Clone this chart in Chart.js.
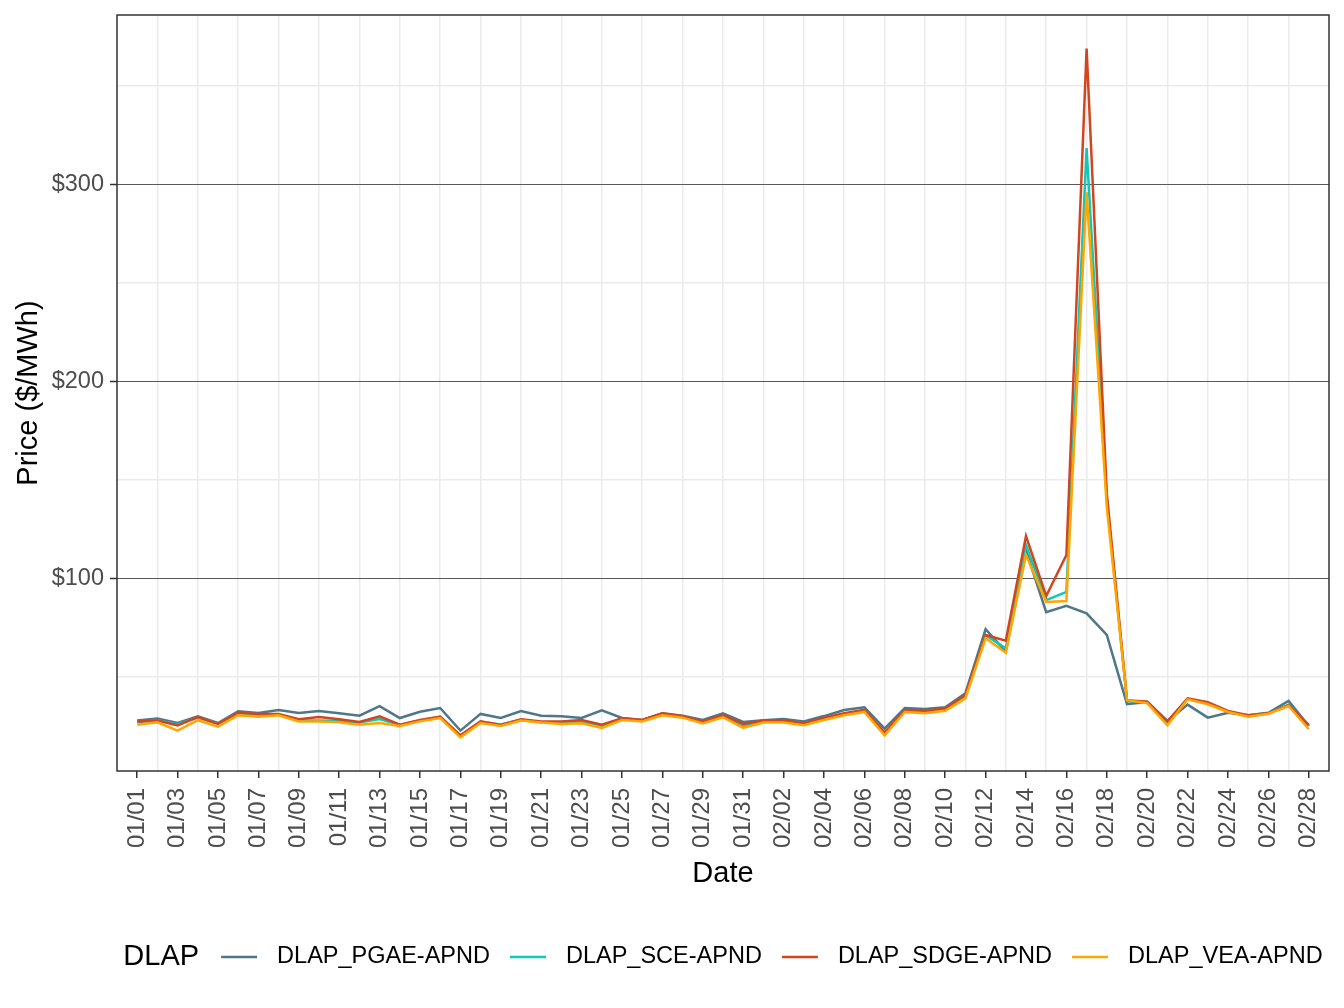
<!DOCTYPE html>
<html>
<head>
<meta charset="utf-8">
<script src="https://cdn.jsdelivr.net/npm/chart.js@4.4.1/dist/chart.umd.min.js"></script>
<style>
  html, body { margin: 0; padding: 0; background: #fff; }
  #wrap { width: 1344px; height: 1008px; }
</style>
</head>
<body>
<div id="wrap"><canvas id="chart"></canvas></div>
<script>
const FONT = '"Liberation Sans", Arial, sans-serif';

const dates = [
    '01/01', '01/02', '01/03', '01/04', '01/05', '01/06', '01/07', '01/08', '01/09', '01/10',
    '01/11', '01/12', '01/13', '01/14', '01/15', '01/16', '01/17', '01/18', '01/19', '01/20',
    '01/21', '01/22', '01/23', '01/24', '01/25', '01/26', '01/27', '01/28', '01/29', '01/30',
    '01/31', '02/01', '02/02', '02/03', '02/04', '02/05', '02/06', '02/07', '02/08', '02/09',
    '02/10', '02/11', '02/12', '02/13', '02/14', '02/15', '02/16', '02/17', '02/18', '02/19',
    '02/20', '02/21', '02/22', '02/23', '02/24', '02/25', '02/26', '02/27', '02/28'
];

const pgae = [
    27.6, 28.6, 26.4, 29.8, 26.4, 32.3, 31.5, 33.0, 31.5, 32.5,
    31.3, 30.1, 34.9, 28.9, 32.1, 34.0, 22.5, 31.0, 28.9, 32.4,
    30.1, 29.8, 28.9, 32.8, 28.9, 27.9, 31.3, 30.1, 27.9, 31.3,
    26.9, 27.8, 28.4, 27.2, 29.9, 33.0, 34.4, 23.5, 34.0, 33.5,
    34.4, 41.5, 74.0, 62.6, 114.0, 82.7, 85.9, 82.1, 71.1, 36.0,
    37.1, 27.4, 35.7, 29.1, 31.6, 30.3, 31.6, 37.6, 24.9
];

const sce = [
    26.8, 27.8, 25.8, 29.2, 26.0, 31.4, 30.6, 30.8, 27.6, 27.6,
    27.4, 26.6, 28.4, 25.4, 27.6, 29.4, 20.0, 27.0, 25.6, 28.0,
    26.8, 26.8, 27.2, 25.0, 28.4, 27.6, 30.8, 29.6, 26.8, 29.8,
    24.8, 27.2, 27.2, 26.0, 28.6, 31.0, 32.8, 21.0, 32.8, 32.2,
    33.4, 40.2, 71.0, 64.3, 116.8, 88.8, 93.0, 318.4, 140.0, 37.5,
    37.0, 26.8, 38.6, 36.4, 32.2, 30.0, 31.2, 35.6, 25.0
];

const sdge = [
    27.1, 27.6, 25.2, 29.4, 25.9, 31.6, 31.0, 31.0, 28.3, 29.4,
    28.3, 26.9, 29.8, 25.5, 27.9, 29.6, 20.1, 27.2, 25.4, 28.3,
    27.2, 27.2, 27.9, 25.5, 28.8, 27.9, 31.3, 29.8, 27.2, 30.3,
    25.9, 27.6, 27.6, 26.2, 28.9, 31.3, 33.0, 21.5, 33.0, 32.6,
    33.7, 40.6, 71.1, 68.2, 121.3, 90.9, 111.7, 368.9, 143.0, 38.0,
    37.2, 27.2, 38.9, 36.9, 32.5, 30.3, 31.3, 35.4, 25.4
];

const vea = [
    25.5, 26.7, 22.5, 27.8, 24.5, 30.3, 29.6, 30.3, 27.2, 27.2,
    26.7, 25.5, 26.4, 24.9, 27.2, 28.9, 19.1, 26.4, 24.9, 27.6,
    26.6, 25.9, 26.2, 23.9, 27.9, 27.2, 30.3, 29.1, 26.2, 29.3,
    23.9, 26.6, 26.6, 25.2, 27.9, 30.3, 32.0, 20.1, 32.0, 31.3,
    32.6, 38.9, 69.4, 62.1, 111.7, 87.8, 88.3, 296.0, 136.0, 38.0,
    36.4, 25.2, 38.4, 35.9, 32.0, 29.6, 31.1, 35.0, 23.2
];

const seriesNames = ['DLAP_PGAE-APND', 'DLAP_SCE-APND', 'DLAP_SDGE-APND', 'DLAP_VEA-APND'];
const seriesColors = ['#4f7689', '#14c6b6', '#d2461f', '#ffa600'];
const seriesValues = [pgae, sce, sdge, vea];

const yTickValues = [50, 100, 150, 200, 250, 300, 350];

function toPoints(values) {
    return values.map((v, i) => ({x: i, y: v}));
}

// legend drawn like ggplot: title on the left, keys in one row
const dlapLegend = {
    id: 'dlapLegend',
    afterDraw(chart) {
        const ctx = chart.ctx;
        const y = 957;
        ctx.save();
        ctx.textBaseline = 'middle';
        ctx.fillStyle = '#000';
        ctx.font = '29px ' + FONT;
        const titleW = ctx.measureText('DLAP').width;
        ctx.font = '23.5px ' + FONT;
        let total = titleW + 22;
        chart.data.datasets.forEach(ds => {
            total += 56 + ctx.measureText(ds.label).width + 20;
        });
        total -= 20;
        let x = (chart.chartArea.left + chart.chartArea.right) / 2 - total / 2;
        ctx.font = '29px ' + FONT;
        ctx.fillText('DLAP', x, y);
        x += titleW + 22;
        ctx.font = '23.5px ' + FONT;
        chart.data.datasets.forEach(ds => {
            ctx.strokeStyle = ds.borderColor;
            ctx.lineWidth = 2.5;
            ctx.beginPath();
            ctx.moveTo(x, y);
            ctx.lineTo(x + 36, y);
            ctx.stroke();
            x += 56;
            ctx.fillText(ds.label, x, y);
            x += ctx.measureText(ds.label).width + 20;
        });
        ctx.restore();
    }
};

const panelBorder = {
    id: 'panelBorder',
    afterDatasetsDraw(chart) {
        const a = chart.chartArea;
        const ctx = chart.ctx;
        ctx.save();
        ctx.strokeStyle = '#333333';
        ctx.lineWidth = 1.5;
        ctx.strokeRect(a.left, a.top, a.right - a.left, a.bottom - a.top);
        ctx.restore();
    }
};

const ctx = document.getElementById('chart').getContext('2d');
const chart = new Chart(ctx, {
    type: 'line',
    data: {
        datasets: seriesNames.map((name, k) => ({
            label: name,
            data: toPoints(seriesValues[k]),
            borderColor: seriesColors[k],
            backgroundColor: seriesColors[k],
            borderWidth: 2.5,
            pointRadius: 0,
            pointHoverRadius: 0,
            tension: 0,
            order: 4 - k
        }))
    },
    options: {
        responsive: true,
        maintainAspectRatio: false,
        animation: false,
        layout: {
            padding: {left: 0, top: 15, right: 15, bottom: 117}
        },
        plugins: {
            legend: {display: false},
            tooltip: {enabled: false}
        },
        scales: {
            x: {
                type: 'linear',
                min: -1,
                max: 59,
                afterBuildTicks: scale => {
                    scale.ticks = dates.map((d, i) => ({value: i}));
                },
                afterFit: scale => {
                    scale.height = 120;
                    scale.paddingLeft = 0;
                    scale.paddingRight = 0;
                },
                ticks: {
                    autoSkip: false,
                    minRotation: 90,
                    maxRotation: 90,
                    padding: 10,
                    color: '#4d4d4d',
                    font: {family: FONT, size: 24},
                    callback: v => (v % 2 === 0 ? dates[v] : '')
                },
                grid: {
                    color: c => (c.tick && c.tick.value % 2 === 1 ? '#ebebeb' : 'rgba(0,0,0,0)'),
                    lineWidth: 1.5,
                    tickColor: c => (c.tick && c.tick.value % 2 === 0 ? '#333333' : 'rgba(0,0,0,0)'),
                    tickLength: 7,
                    tickWidth: 1.5
                },
                border: {display: false},
                title: {
                    display: true,
                    text: 'Date',
                    color: '#000',
                    font: {family: FONT, size: 29},
                    padding: {top: 0, bottom: 0}
                }
            },
            y: {
                min: 2,
                max: 386,
                afterBuildTicks: scale => {
                    scale.ticks = yTickValues.map(v => ({value: v}));
                },
                afterFit: scale => {
                    scale.width = 117;
                    scale.paddingTop = 0;
                    scale.paddingBottom = 0;
                },
                ticks: {
                    padding: 6,
                    color: '#4d4d4d',
                    font: {family: FONT, size: 23.5},
                    callback: v => (v % 100 === 0 ? '$' + v : '')
                },
                grid: {
                    color: c => (c.tick && c.tick.value % 100 === 0 ? '#595959' : '#ebebeb'),
                    lineWidth: c => (c.tick && c.tick.value % 100 === 0 ? 1 : 1.5),
                    tickColor: c => (c.tick && c.tick.value % 100 === 0 ? '#333333' : 'rgba(0,0,0,0)'),
                    tickLength: 7,
                    tickWidth: 1.5
                },
                border: {display: false},
                title: {
                    display: true,
                    text: 'Price ($/MWh)',
                    color: '#000',
                    font: {family: FONT, size: 29},
                    padding: {top: 12, bottom: 0}
                }
            }
        }
    },
    plugins: [panelBorder, dlapLegend]
});
</script>
</body>
</html>
